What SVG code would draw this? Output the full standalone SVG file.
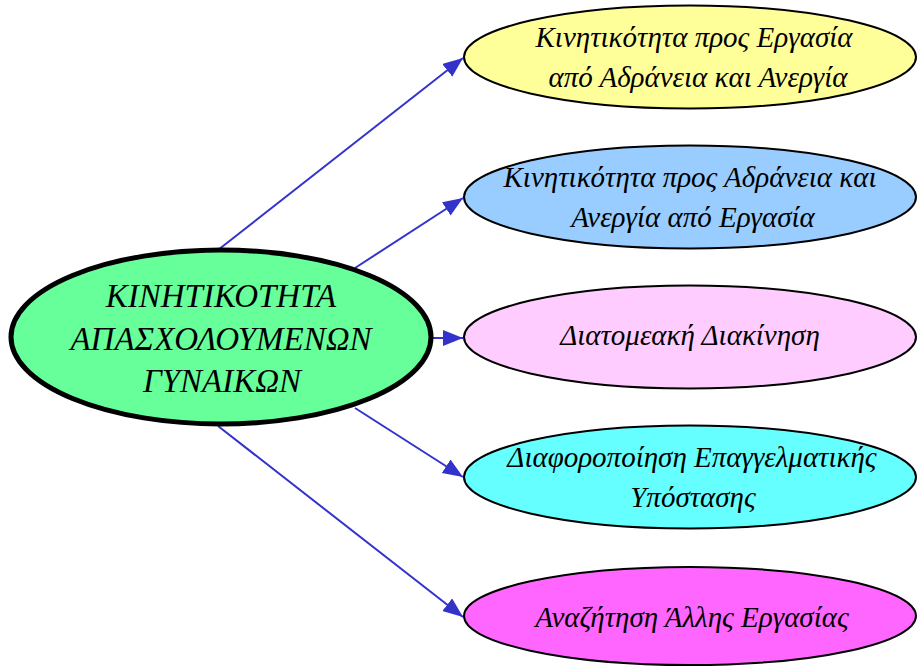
<svg xmlns="http://www.w3.org/2000/svg" width="919" height="667" viewBox="0 0 919 667">
<style>
text{font-family:"Liberation Serif","DejaVu Serif",serif;font-style:italic;fill:#000;text-anchor:middle}
.c{font-size:33px}
.r{font-size:29px}
.sat{stroke:#000;stroke-width:2}
.conn line{stroke:#3333CC;stroke-width:2;marker-end:url(#ah)}
</style>
<defs>
<marker id="ah" markerUnits="userSpaceOnUse" markerWidth="22" markerHeight="18" refX="20" refY="8" orient="auto">
<path d="M0,0 L20,8 L0,16 z" fill="#3333CC"/>
</marker>
</defs>
<rect width="919" height="667" fill="#fff"/>
<g id="connectors" class="conn">
<line x1="218" y1="250" x2="463" y2="58"/>
<line x1="355" y1="268" x2="463" y2="198"/>
<line x1="433" y1="338" x2="463" y2="338"/>
<line x1="355" y1="408" x2="463" y2="477"/>
<line x1="218" y1="426" x2="463" y2="617"/>
</g>
<g id="center">
<ellipse cx="221" cy="337" rx="210" ry="87" fill="#66FF99" stroke="#000" stroke-width="5"/>
<text class="c" x="221" y="307">ΚΙΝΗΤΙΚΟΤΗΤΑ</text>
<text class="c" x="221" y="350">ΑΠΑΣΧΟΛΟΥΜΕΝΩΝ</text>
<text class="c" x="222" y="392">ΓΥΝΑΙΚΩΝ</text>
</g>
<g id="n1">
<ellipse class="sat" cx="690" cy="57" rx="226" ry="51.5" fill="#FFFF99"/>
<text class="r" x="694" y="47">Κινητικότητα προς Εργασία</text>
<text class="r" x="698" y="87">από Αδράνεια και Ανεργία</text>
</g>
<g id="n2">
<ellipse class="sat" cx="690" cy="197" rx="226" ry="51.5" fill="#99CCFF"/>
<text class="r" x="690" y="187">Κινητικότητα προς Αδράνεια και</text>
<text class="r" x="693" y="227">Ανεργία από Εργασία</text>
</g>
<g id="n3">
<ellipse class="sat" cx="690" cy="337" rx="226" ry="51.5" fill="#FFCCFF"/>
<text class="r" x="690" y="345">Διατομεακή Διακίνηση</text>
</g>
<g id="n4">
<ellipse class="sat" cx="690" cy="477" rx="226" ry="51.5" fill="#66FFFF"/>
<text class="r" x="692" y="467">Διαφοροποίηση Επαγγελματικής</text>
<text class="r" x="693" y="507">Υπόστασης</text>
</g>
<g id="n5">
<ellipse class="sat" cx="690" cy="616" rx="226" ry="49" fill="#FF66FF"/>
<text class="r" x="692" y="627">Αναζήτηση Άλλης Εργασίας</text>
</g>
</svg>
